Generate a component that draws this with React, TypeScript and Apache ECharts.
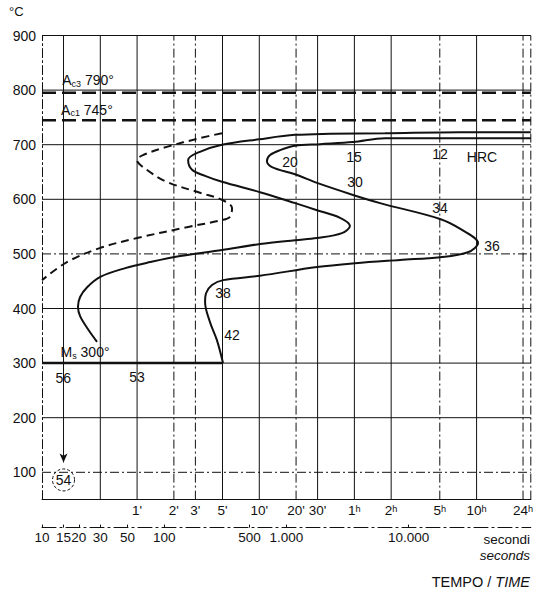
import React, { useEffect, useRef } from 'react';
import * as echarts from 'echarts';

// ---- curves (time in seconds, temperature in °C) ----
const START_T = [100000, 26400, 6400, 2280, 1180, 600, 297, 196, 157, 169, 216, 297, 608, 1180, 1780, 2750, 3310, 2850, 1780, 1180, 608, 297, 135, 77, 48, 30, 23.4, 20.5, 19.7, 20.5, 23.8, 28.2];
const START_TEMP = [723, 723, 721, 720, 718, 710, 700, 687, 672, 654, 643, 632, 613, 593, 580, 566, 551, 538, 529, 525, 518, 507, 496, 485, 474, 458, 439, 421, 403, 386, 362, 339];

const END_T = [100000, 26400, 6400, 3510, 1885, 1175, 887, 735, 693, 762, 1175, 1780, 3510, 5840, 18070, 27350, 37000, 30600, 18070, 8510, 3640, 1780, 608, 303, 246, 220, 216, 237, 270, 303];
const END_TEMP = [712, 712, 712, 705, 701, 698, 690, 681, 670, 659, 646, 630, 608, 593, 564, 544, 520, 503, 494, 489, 483, 476, 460, 452, 443, 428, 412, 375, 342, 300];

const DASHED_T = [297, 196, 105, 67, 60, 72, 105, 196, 297, 359, 345, 297, 154, 60, 30, 16, 10];
const DASHED_TEMP = [721, 712, 696, 681, 672, 654, 632, 612, 599, 584, 568, 562, 549, 529, 511, 485, 452];

// ---- critical temperature lines (as drawn) ----
const AC3_LINE = 795;
const AC1_LINE = 745;
const MS = 300;
const MS_END_T = 303;

// ---- hardness labels ----
const HRC_TEXT = ['20', '15', '12', 'HRC', '30', '34', '36', '38', '42', '56', '53'];
const HRC_T = [1070, 3570, 18070, 39900, 3640, 18070, 48200, 303, 359, 14.9, 60];
const HRC_TEMP = [668, 677, 683, 677, 632, 584, 515, 428, 351, 273, 275];

const CIRCLE_TEXT = '54';
const CIRCLE_T = 15;
const CIRCLE_TEMP = 86;

const ARROW_T = 15;
const ARROW_TOP = 900;
const ARROW_END = 118;

// ---- notes ----
const NOTE_MAIN = ['A', 'A', 'M'];
const NOTE_SUB = ['c3', 'c1', 's'];
const NOTE_VAL = ['790°', '745°', '300°'];
const NOTE_T = [23.8, 23.3, 22.5];
const NOTE_TEMP = [818, 764, 320];

// ---- axes ----
const MIN_TICKS_S = [60, 120, 180, 300, 600, 1200, 1800, 3600, 7200, 18000, 36000, 86400];
const MIN_TICK_LABELS = ["1'", "2'", "3'", "5'", "10'", "20'", "30'", '1ʰ', '2ʰ', '5ʰ', '10ʰ', '24ʰ'];
const SEC_TICKS_S = [10, 15, 20, 30, 50, 100, 500, 1000, 10000];
const SEC_TICK_LABELS = ['10', '15', '20', '30', '50', '100', '500', '1.000', '10.000'];
const TEMP_TICKS = [100, 200, 300, 400, 500, 600, 700, 800, 900];

const V_GRID_S = [30, 60, 120, 180, 300, 600, 1200, 1800, 3600, 7200, 18000, 36000, 86400, 100000];
const H_GRID = [100, 200, 300, 400, 500, 600, 700, 800, 900];

const T_MIN = 10;
const T_MAX = 100000;
const TEMP_MIN = 50;
const TEMP_MAX = 900;

// ---- styles ----
const INK = '#111111';
const FONT = '"Liberation Sans", Arial, Helvetica, sans-serif';
const DASHDOT_V = new Set([120, 180, 1200, 18000, 86400, 100000]);
const DASHDOT_H = new Set([100, 500]);
const DASH_DOT: number[] = [9, 3, 2, 3];

const lx = (t: number) => Math.log10(t);
const toPts = (ts: number[], temps: number[]) => ts.map((t, i) => [lx(t), temps[i]]);
const labelFor = (ticks: number[], labels: string[]) => (v: number) => {
  const i = ticks.findIndex((t) => Math.abs(lx(t) - v) < 1e-6);
  return i >= 0 ? labels[i] : '';
};

const plainLabel = {
  show: true,
  position: ['50%', '50%'],
  align: 'center',
  verticalAlign: 'middle',
  formatter: (p: any) => p.name,
  color: INK,
  opacity: 1,
  fontSize: 14,
  fontFamily: FONT,
  textBorderWidth: 0,
};

function buildOption() {
  const series: any[] = [];

  V_GRID_S.forEach((t) => {
    series.push({
      type: 'line',
      data: [[lx(t), TEMP_MIN], [lx(t), TEMP_MAX]],
      symbol: 'none',
      silent: true,
      clip: false,
      z: 1,
      lineStyle: { color: INK, width: 1, type: DASHDOT_V.has(t) ? DASH_DOT : 'solid' },
    });
  });
  H_GRID.forEach((v) => {
    series.push({
      type: 'line',
      data: [[lx(T_MIN), v], [lx(T_MAX), v]],
      symbol: 'none',
      silent: true,
      clip: false,
      z: 1,
      lineStyle: { color: INK, width: 1, type: DASHDOT_H.has(v) ? DASH_DOT : 'solid' },
    });
  });

  // 15 s line with arrow towards circled hardness
  series.push({
    type: 'line',
    symbol: 'none',
    silent: true,
    z: 2,
    color: INK,
    data: [
      [lx(ARROW_T), ARROW_TOP],
      { value: [lx(ARROW_T), ARROW_END], symbol: 'arrow', symbolSize: [6, 9], symbolRotate: 180, itemStyle: { color: INK } },
    ],
    lineStyle: { color: INK, width: 1 },
  });

  // Ac3 / Ac1 dashed
  [AC3_LINE, AC1_LINE].forEach((v) => {
    series.push({
      type: 'line',
      data: [[lx(T_MIN), v], [lx(T_MAX), v]],
      symbol: 'none',
      silent: true,
      z: 3,
      lineStyle: { color: INK, width: 2.5, type: [14, 6] },
    });
  });

  // Ms line
  series.push({
    type: 'line',
    data: [[lx(T_MIN), MS], [lx(MS_END_T), MS]],
    symbol: 'none',
    silent: true,
    z: 3,
    lineStyle: { color: INK, width: 2.5 },
  });

  // curves
  series.push({
    name: 'start',
    type: 'line',
    data: toPts(START_T, START_TEMP),
    symbol: 'none',
    smooth: 0.35,
    z: 4,
    lineStyle: { color: INK, width: 2 },
  });
  series.push({
    name: 'end',
    type: 'line',
    data: toPts(END_T, END_TEMP),
    symbol: 'none',
    smooth: 0.35,
    z: 4,
    lineStyle: { color: INK, width: 2 },
  });
  series.push({
    name: 'dashed',
    type: 'line',
    data: toPts(DASHED_T, DASHED_TEMP),
    symbol: 'none',
    smooth: 0.35,
    z: 4,
    lineStyle: { color: INK, width: 2, type: [8, 5] },
  });

  // hardness labels
  series.push({
    type: 'scatter',
    symbolSize: 1,
    color: INK,
    itemStyle: { color: 'rgba(17,17,17,0)', opacity: 1 },
    silent: true,
    z: 6,
    data: HRC_TEXT.map((txt, i) => ({ value: [lx(HRC_T[i]), HRC_TEMP[i]], name: txt })),
    label: plainLabel,
  });

  // circled hardness
  series.push({
    type: 'scatter',
    symbol: 'circle',
    symbolSize: 22,
    silent: true,
    z: 6,
    color: INK,
    itemStyle: { color: 'rgba(255,255,255,0)', borderColor: INK, borderWidth: 1, borderType: [3, 2], opacity: 1 },
    data: [{ value: [lx(CIRCLE_T), CIRCLE_TEMP], name: CIRCLE_TEXT }],
    label: plainLabel,
  });

  // notes Ac3 / Ac1 / Ms
  series.push({
    type: 'scatter',
    symbolSize: 1,
    color: INK,
    itemStyle: { color: 'rgba(17,17,17,0)', opacity: 1 },
    silent: true,
    z: 6,
    data: NOTE_MAIN.map((m, i) => ({
      value: [lx(NOTE_T[i]), NOTE_TEMP[i]],
      name: `{b|${m}}{s|${NOTE_SUB[i]}}{b| ${NOTE_VAL[i]}}`,
    })),
    label: {
      ...plainLabel,
      rich: {
        b: { fontSize: 14, color: INK, fontFamily: FONT, lineHeight: 16 },
        s: { fontSize: 9, color: INK, fontFamily: FONT, lineHeight: 10, verticalAlign: 'bottom' },
      },
    },
  });

  return {
    animation: false,
    backgroundColor: '#ffffff',
    color: [INK],
    textStyle: { fontFamily: FONT },
    grid: { left: 42, top: 35.5, width: 488.8, height: 464.1, containLabel: false, outerBoundsMode: 'none' },
    xAxis: [
      {
        type: 'value',
        min: lx(T_MIN),
        max: lx(T_MAX),
        position: 'bottom',
        axisLine: { show: true, lineStyle: { color: INK, width: 1 } },
        axisTick: { show: false },
        splitLine: { show: false },
        axisLabel: {
          customValues: MIN_TICKS_S.map(lx),
          formatter: labelFor(MIN_TICKS_S, MIN_TICK_LABELS),
          color: INK,
          fontSize: 13.5,
          margin: 4,
          fontFamily: FONT,
        },
      },
      {
        type: 'value',
        min: lx(T_MIN),
        max: lx(T_MAX),
        position: 'bottom',
        offset: 28,
        axisLine: { show: true, lineStyle: { color: INK, width: 1, type: [14, 4, 2, 4] } },
        axisTick: { show: true, inside: true, length: 3, customValues: SEC_TICKS_S.map(lx), lineStyle: { color: INK } },
        splitLine: { show: false },
        axisLabel: {
          customValues: SEC_TICKS_S.map(lx),
          formatter: labelFor(SEC_TICKS_S, SEC_TICK_LABELS),
          color: INK,
          fontSize: 13.5,
          margin: 3,
          fontFamily: FONT,
        },
      },
    ],
    yAxis: {
      type: 'value',
      min: TEMP_MIN,
      max: TEMP_MAX,
      axisLine: { show: true, lineStyle: { color: INK, width: 1, type: DASH_DOT } },
      axisTick: { show: false },
      splitLine: { show: false },
      axisLabel: { customValues: TEMP_TICKS, color: INK, fontSize: 14, margin: 6, fontFamily: FONT },
    },
    graphic: [
      { type: 'text', left: 9, top: 5, style: { text: '°C', fontSize: 13, fill: INK, fontFamily: FONT } },
      {
        type: 'text', x: 530, y: 539,
        style: { text: 'secondi', fontSize: 13.5, fill: INK, fontFamily: FONT, align: 'right', textAlign: 'right', verticalAlign: 'middle', textVerticalAlign: 'middle' },
      },
      {
        type: 'text', x: 530, y: 555,
        style: { text: 'seconds', fontSize: 13.5, fontStyle: 'italic', fill: INK, fontFamily: FONT, align: 'right', textAlign: 'right', verticalAlign: 'middle', textVerticalAlign: 'middle' },
      },
      {
        type: 'text', x: 530, y: 582,
        style: {
          text: '{n|TEMPO / }{i|TIME}',
          rich: {
            n: { fontSize: 14.5, fill: INK, fontFamily: FONT },
            i: { fontSize: 14.5, fill: INK, fontFamily: FONT, fontStyle: 'italic' },
          },
          fill: INK,
          align: 'right', textAlign: 'right', verticalAlign: 'middle', textVerticalAlign: 'middle',
        },
      },
    ],
    series,
  };
}

export default function App() {
  const ref = useRef<HTMLDivElement>(null);
  useEffect(() => {
    document.body.style.margin = '0';
    if (!ref.current) return;
    const chart = echarts.init(ref.current, undefined, { renderer: 'svg' });
    chart.setOption(buildOption() as any);
    return () => chart.dispose();
  }, []);
  return <div ref={ref} style={{ width: 550, height: 596, display: 'block' }} />;
}
